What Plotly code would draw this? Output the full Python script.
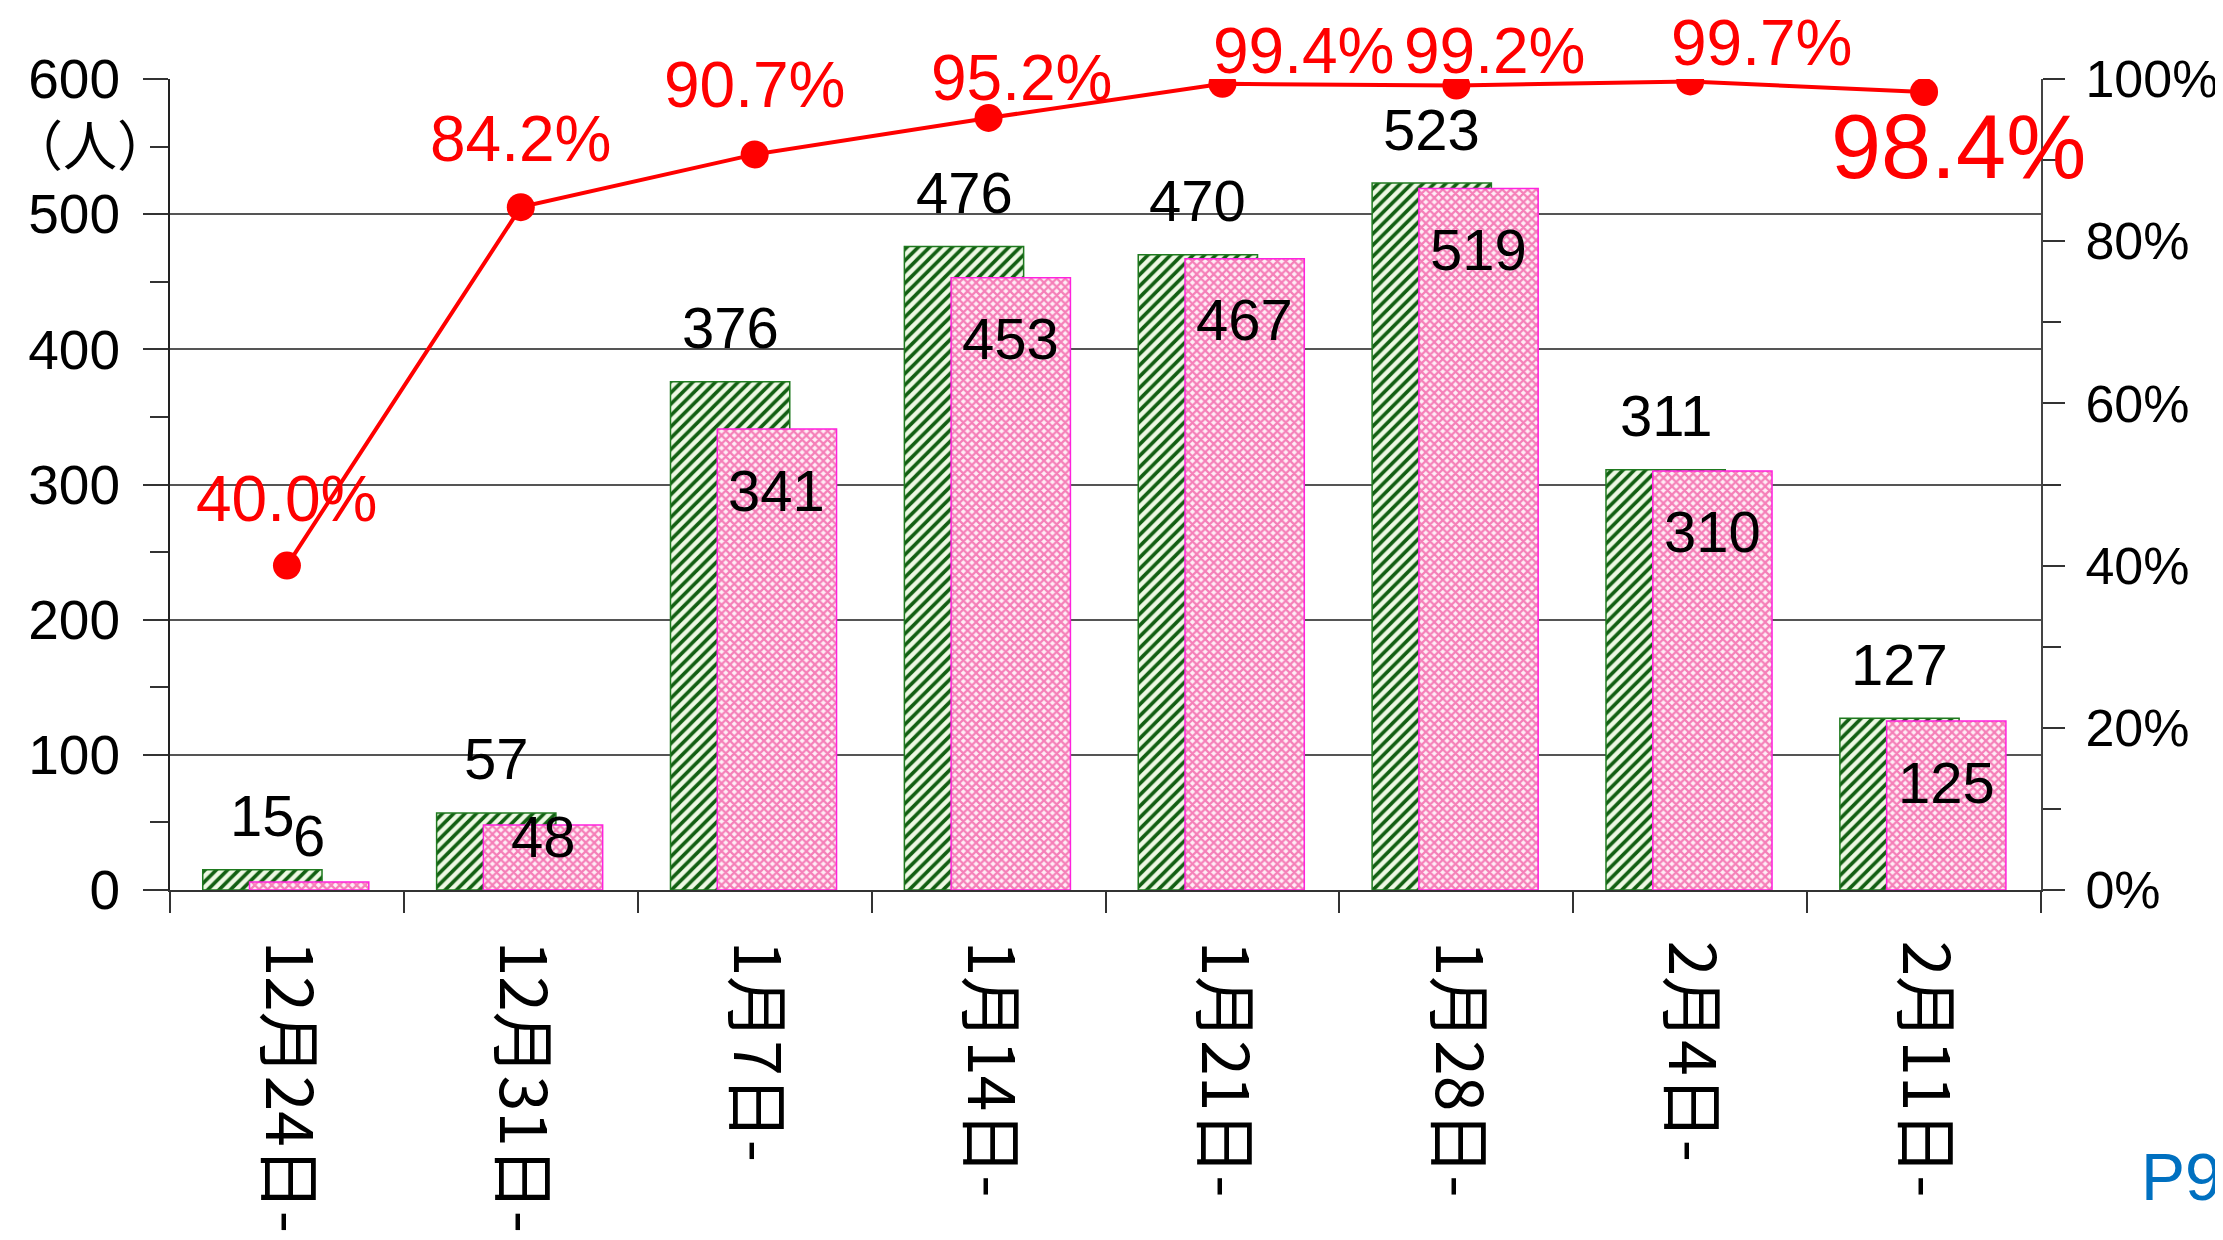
import plotly.graph_objects as go

# weekly counts (人) and rate (%)
weeks = ["12月24日-", "12月31日-", "1月7日-", "1月14日-", "1月21日-", "1月28日-", "2月4日-", "2月11日-"]
total = [15, 57, 376, 476, 470, 523, 311, 127]
done = [6, 48, 341, 453, 467, 519, 310, 125]
rate = [40.0, 84.2, 90.7, 95.2, 99.4, 99.2, 99.7, 98.4]

# label nudges in px (dx, dy) for the rate labels, and dy for the pink labels
rate_nudge = [(0, 67), (0, 68), (0, 69), (33, 40), (81, 33), (38, 34), (71, 38), (34, -55)]
done_dy = {0: 46, 1: -11}

W_BAR = 0.51
OFF_G = -0.36
OFF_P = -0.16
num_font = "Liberation Sans, Arial, sans-serif"
jp_font = "Noto Sans CJK JP, sans-serif"

fig = go.Figure()
fig.add_trace(go.Bar(
    x=weeks, y=total, width=W_BAR, offset=OFF_G,
    marker=dict(color="#eef9e4", line=dict(color="#1f7a1f", width=1.5),
                pattern=dict(shape="/", fgcolor="#125f12", bgcolor="#eef9e4",
                             size=8, solidity=0.45, fillmode="replace")),
    showlegend=False, hoverinfo="skip"))
fig.add_trace(go.Bar(
    x=weeks, y=done, width=W_BAR, offset=OFF_P,
    marker=dict(color="#ffd3e8", line=dict(color="#ff22dd", width=1.5),
                pattern=dict(shape="x", fgcolor="#f57fb8", bgcolor="#ffeef6",
                             size=6, solidity=0.6, fillmode="replace")),
    showlegend=False, hoverinfo="skip"))
fig.add_trace(go.Scatter(
    x=weeks, y=rate, yaxis="y2", mode="lines+markers",
    line=dict(color="#ff0000", width=4),
    marker=dict(color="#ff0000", size=28),
    showlegend=False, hoverinfo="skip"))

# value labels
for i, v in enumerate(total):
    fig.add_annotation(x=i + OFF_G + W_BAR / 2, y=v, text=str(v), showarrow=False,
                       yshift=54, yanchor="middle",
                       font=dict(family=num_font, size=58, color="black"))
for i, v in enumerate(done):
    fig.add_annotation(x=i + OFF_P + W_BAR / 2, y=v, text=str(v), showarrow=False,
                       yshift=done_dy.get(i, -61), yanchor="middle",
                       font=dict(family=num_font, size=58, color="black"))
for i, v in enumerate(rate):
    dx, dy = rate_nudge[i]
    fig.add_annotation(x=weeks[i], y=v, yref="y2", text=f"{v:.1f}%", showarrow=False,
                       xshift=dx, yshift=dy, yanchor="middle",
                       font=dict(family=num_font, size=90 if i == len(rate) - 1 else 64,
                                 color="#ff0000"))

fig.add_annotation(x=-0.043, y=0.922, xref="paper", yref="paper", text="（人）",
                   showarrow=False, xanchor="center", yanchor="middle",
                   font=dict(family=jp_font, size=54, color="black"))
fig.add_annotation(x=1.0526, y=-0.354, xref="paper", yref="paper", text="P9",
                   showarrow=False, xanchor="left", yanchor="middle",
                   font=dict(family=num_font, size=66, color="#0070c0"))

# page body adds an 8px offset, so margins are trimmed by it on the left/top
fig.update_layout(
    width=2223, height=1240,
    margin=dict(l=162, r=190, t=71, b=358),
    plot_bgcolor="white", paper_bgcolor="white",
    barmode="overlay",
    xaxis=dict(type="category", range=[-0.5, 7.5], automargin=False,
               tickson="boundaries", ticks="outside", ticklen=21,
               tickwidth=2, tickcolor="#333", showline=True, linecolor="#333", linewidth=2,
               tickangle=90, ticklabelstandoff=36,
               tickfont=dict(family=jp_font, size=64, color="black"), showgrid=False),
    yaxis=dict(range=[0, 600], dtick=100, automargin=False, ticks="outside", ticklen=25,
               tickwidth=2, tickcolor="#333", showline=True, linecolor="#222", linewidth=2,
               showgrid=True, gridcolor="#555", gridwidth=2, zeroline=False,
               ticklabelstandoff=12,
               minor=dict(dtick=50, ticks="outside", ticklen=18, tickwidth=2, tickcolor="#333"),
               tickfont=dict(family=num_font, size=55, color="black")),
    yaxis2=dict(range=[0, 100], dtick=20, automargin=False, overlaying="y", side="right",
                ticksuffix="%", ticks="outside", ticklen=22, tickwidth=2, tickcolor="#333",
                showline=True, linecolor="#444", linewidth=2, showgrid=False, zeroline=False,
                ticklabelstandoff=10,
                minor=dict(dtick=10, ticks="outside", ticklen=18, tickwidth=2, tickcolor="#333"),
                tickfont=dict(family=num_font, size=52, color="black")),
)

fig.write_html("out.html")
